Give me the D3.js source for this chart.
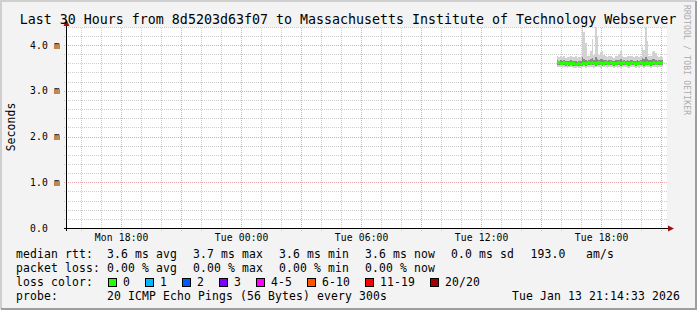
<!DOCTYPE html>
<html><head><meta charset="utf-8">
<script src="https://cdn.jsdelivr.net/npm/d3@7"></script>
<style>
html,body{margin:0;padding:0;background:#f3f3f3;}
svg{display:block;}
text{font-family:"DejaVu Sans Mono",monospace;fill:#000;white-space:pre;}
</style></head><body><svg id="c" width="697" height="310"></svg>
<script>
// ---------- data ----------
const title = "Last 30 Hours from 8d5203d63f07 to Massachusetts Institute of Technology Webserver";
const yAxisTitle = "Seconds";
const watermark = "RRDTOOL / TOBI OETIKER";
const endTime = "2026-01-13T21:14:33";
const rangeHours = 30;
const firstSample = "2026-01-13T15:45:00";
const stepSeconds = 300;
const yTickValues = [0, 1, 2, 3, 4];
const yTickLabels = ["0.0", "1.0 m", "2.0 m", "3.0 m", "4.0 m"];
const xTickLabels = ["Mon 18:00", "Tue 00:00", "Tue 06:00", "Tue 12:00", "Tue 18:00"];

// median RTT per 5 min step (ms)
const medianRtt = [3.62,3.62,3.61,3.61,3.62,3.60,3.61,3.60,3.61,3.60,
                   3.60,3.59,3.59,3.60,3.59,3.60,3.61,3.60,3.61,3.62,
                   3.61,3.62,3.61,3.60,3.61,3.62,3.61,3.60,3.61,3.62,
                   3.61,3.61,3.62,3.61,3.60,3.61,3.61,3.62,3.60,3.61,
                   3.62,3.61,3.61,3.60,3.61,3.62,3.61,3.60,3.61,3.61,
                   3.62,3.61,3.60,3.61,3.62,3.61,3.60,3.61,3.62,3.61,
                   3.61,3.62,3.61,3.62];
// highest ping per step (ms)
const maxRtt = [3.76,3.75,3.78,3.74,3.77,3.73,3.75,3.74,3.77,3.75,
                3.74,3.76,3.73,3.75,3.74,4.40,4.30,4.05,3.76,3.78,
                3.87,4.15,3.80,4.45,4.20,3.79,3.85,3.87,3.80,3.76,
                3.74,3.77,3.76,3.75,3.73,3.76,3.78,3.82,3.87,3.76,
                3.75,3.74,3.77,3.76,3.76,3.78,3.75,3.76,3.78,3.75,
                3.77,3.97,3.90,4.42,4.10,3.77,3.76,3.85,3.88,3.83,
                3.76,3.75,3.77,3.74];
// lowest ping per step (ms)
const minRtt = [3.53,3.52,3.53,3.51,3.53,3.52,3.51,3.52,3.53,3.52,
                3.51,3.50,3.52,3.51,3.50,3.52,3.53,3.51,3.52,3.53,
                3.52,3.53,3.51,3.52,3.53,3.52,3.51,3.52,3.53,3.52,
                3.51,3.52,3.53,3.52,3.50,3.52,3.51,3.53,3.51,3.52,
                3.53,3.52,3.51,3.50,3.52,3.53,3.52,3.51,3.52,3.51,
                3.53,3.52,3.51,3.52,3.53,3.52,3.50,3.52,3.53,3.52,
                3.51,3.53,3.52,3.53];
// upper and lower quartile of the pings (ms)
const upperQ = [3.68,3.67,3.69,3.67,3.68,3.66,3.67,3.66,3.68,3.67,
                3.66,3.67,3.65,3.66,3.66,3.74,3.71,3.69,3.67,3.69,
                3.70,3.72,3.69,3.75,3.71,3.69,3.71,3.70,3.69,3.68,
                3.67,3.68,3.69,3.67,3.66,3.68,3.68,3.69,3.70,3.67,
                3.68,3.67,3.68,3.67,3.69,3.68,3.67,3.66,3.68,3.67,
                3.68,3.72,3.70,3.74,3.71,3.68,3.69,3.70,3.71,3.69,
                3.67,3.68,3.68,3.69];
const lowerQ = [3.58,3.58,3.57,3.57,3.58,3.56,3.57,3.56,3.57,3.56,
                3.56,3.55,3.55,3.56,3.55,3.56,3.57,3.56,3.57,3.58,
                3.57,3.58,3.57,3.56,3.57,3.58,3.57,3.56,3.57,3.58,
                3.57,3.57,3.58,3.57,3.56,3.57,3.57,3.58,3.56,3.57,
                3.58,3.57,3.57,3.56,3.57,3.58,3.57,3.56,3.57,3.57,
                3.58,3.57,3.56,3.57,3.58,3.57,3.56,3.57,3.58,3.57,
                3.57,3.58,3.57,3.58];

const lossLabels = ["0", "1", "2", "3", "4-5", "6-10", "11-19", "20/20"];
const lossColors = ["#26ff00", "#00b8ff", "#0059ff", "#7e00ff", "#ff00ff", "#ff5500", "#ff0000", "#a00000"];
const rttStats = ["3.6 ms avg", "3.7 ms max", "3.6 ms min", "3.6 ms now", "0.0 ms sd"];
const rttRate = ["193.0", "am/s"];
const lossStats = ["0.00 % avg", "0.00 % max", "0.00 % min", "0.00 % now"];
const rowLabels = ["median rtt:", "packet loss:", "loss color:", "probe:"];
const probeText = "20 ICMP Echo Pings (56 Bytes) every 300s";
const stampText = "Tue Jan 13 21:14:33 2026";

// ---------- layout ----------
const W = 697, H = 310;
const L = 66.5, R = 666.5, B = 228.5, T = 27;
const svg = d3.select("#c");

const tEnd = new Date(endTime);
const tStart = new Date(tEnd.getTime() - rangeHours * 3600e3);
const x = d3.scaleTime().domain([tStart, tEnd]).range([L, R]);
const y = d3.scaleLinear().domain([0, 4]).range([B, B - 4 * 45.75]);
const yMax = y.invert(T);

const defs = svg.append("defs");
function pat(id, w, h, color) {
  const p = defs.append("pattern").attr("id", id).attr("patternUnits", "userSpaceOnUse")
    .attr("x", 0).attr("y", 0).attr("width", w).attr("height", h);
  p.append("rect").attr("x", 0).attr("y", 0).attr("width", 1).attr("height", 1).attr("fill", color);
}
pat("vMin", 1, 2, "#cdcdcd");
pat("vMaj", 1, 2, "#eaa6a6");

// background & frame
svg.append("rect").attr("width", W).attr("height", H).attr("fill", "#f3f3f3");
svg.append("path").attr("d", `M1,${H - 1}V1H${W - 1}`).attr("fill", "none").attr("stroke", "#cfcfcf").attr("stroke-width", 2);
svg.append("path").attr("d", `M1,${H - 1}H${W - 1}V1`).attr("fill", "none").attr("stroke", "#9e9e9e").attr("stroke-width", 2);

// canvas
svg.append("rect").attr("x", 67).attr("y", T).attr("width", 600).attr("height", B - T).attr("fill", "#ffffff");

// grid
const g = svg.append("g").attr("shape-rendering", "crispEdges");
const minorY = d3.range(0.2, yMax + 0.001, 0.2).filter(v => Math.abs(v - Math.round(v)) > 0.01);
const hourTicks = x.ticks(d3.timeHour.every(1));
const majT = x.ticks(d3.timeHour.every(3));
const majSet = majT.map(d => +d);
const dotXs = d3.range(64, 668, 2);
function hline(v, color) {
  const yy = Math.floor(y(v));
  g.append("g").selectAll("rect").data(dotXs).join("rect")
    .attr("x", d => d).attr("y", yy).attr("width", 1).attr("height", 1).attr("fill", color);
}
minorY.forEach(v => hline(v, "#cdcdcd"));
yTickValues.filter(v => v > 0).forEach(v => hline(v, "#eaa6a6"));
g.selectAll("rect.gx").data(hourTicks.filter(d => !majSet.includes(+d))).join("rect").attr("class", "gx")
  .attr("x", d => Math.floor(x(d))).attr("width", 1).attr("y", T).attr("height", 204).attr("fill", "url(#vMin)");
g.selectAll("rect.mx").data(majT).join("rect").attr("class", "mx")
  .attr("x", d => Math.floor(x(d))).attr("width", 1).attr("y", T).attr("height", 204).attr("fill", "url(#vMaj)");

// data
const t0 = new Date(firstSample).getTime();
const times = medianRtt.map((_, i) => new Date(t0 + i * stepSeconds * 1000));
const x1 = i => x(new Date(times[i].getTime() + stepSeconds * 1000));
svg.append("clipPath").attr("id", "cv").append("rect").attr("x", 67).attr("y", T).attr("width", 600).attr("height", B - T);
const dg = svg.append("g").attr("clip-path", "url(#cv)").attr("shape-rendering", "crispEdges");
dg.selectAll("rect.smk").data(times).join("rect").attr("class", "smk")
  .attr("x", d => x(d)).attr("width", (d, i) => x1(i) - x(d))
  .attr("y", (d, i) => y(maxRtt[i])).attr("height", (d, i) => y(minRtt[i]) - y(maxRtt[i]))
  .attr("fill", "#d2d2d2");
dg.selectAll("rect.smq").data(times).join("rect").attr("class", "smq")
  .attr("x", d => x(d)).attr("width", (d, i) => x1(i) - x(d))
  .attr("y", (d, i) => y(upperQ[i])).attr("height", (d, i) => y(lowerQ[i]) - y(upperQ[i]))
  .attr("fill", "#8a8a8a");
dg.selectAll("rect.med").data(times).join("rect").attr("class", "med")
  .attr("x", d => x(d)).attr("width", (d, i) => x1(i) - x(d))
  .attr("y", (d, i) => y(medianRtt[i]) - 1.5).attr("height", 3)
  .attr("fill", lossColors[0]);

// axes
svg.append("line").attr("x1", 64).attr("x2", 669).attr("y1", B).attr("y2", B).attr("stroke", "#000").attr("shape-rendering", "crispEdges");
svg.append("line").attr("x1", L).attr("x2", L).attr("y1", 231).attr("y2", 22).attr("stroke", "#000").attr("shape-rendering", "crispEdges");
svg.append("path").attr("d", `M${L},19.5L${L - 3},26L${L + 3},26Z`).attr("fill", "#9a1010");
svg.append("path").attr("d", `M674,${B}L668,${B - 3}L668,${B + 3}Z`).attr("fill", "#9a1010");

// tick labels
svg.selectAll("text.yl").data(yTickValues).join("text").attr("class", "yl")
  .attr("x", 30).attr("y", d => y(d) + 3).attr("font-size", "9.7px").attr("letter-spacing", "0.16px")
  .text((d, i) => yTickLabels[i]);
svg.selectAll("text.xl").data(x.ticks(d3.timeHour.every(6))).join("text").attr("class", "xl")
  .attr("x", d => x(d)).attr("y", 241).attr("text-anchor", "middle").attr("font-size", "9.7px").attr("letter-spacing", "0.16px")
  .text((d, i) => xTickLabels[i]);

// titles
svg.append("text").attr("x", 348).attr("y", 24).attr("text-anchor", "middle").attr("font-size", "13.3px").text(title);
svg.append("text").attr("transform", "translate(15,127) rotate(-90)").attr("text-anchor", "middle")
  .attr("font-size", "11.4px").attr("letter-spacing", "0.1px").text(yAxisTitle);
svg.append("text").attr("transform", "translate(684,5) rotate(90)").attr("font-size", "8px").attr("letter-spacing", "0.2px")
  .style("fill", "#ababab").text(watermark);

// legend
const lf = t => t.attr("font-size", "11.4px").attr("letter-spacing", "0.14px");
const base = [258, 272, 286, 300];
const colX = [107, 193, 279, 365, 451];
rowLabels.forEach((s, i) => lf(svg.append("text").attr("x", 16).attr("y", base[i]).text(s)));
rttStats.forEach((s, i) => lf(svg.append("text").attr("x", colX[i]).attr("y", base[0]).text(s)));
lf(svg.append("text").attr("x", 530.5).attr("y", base[0]).text(rttRate[0]));
lf(svg.append("text").attr("x", 586).attr("y", base[0]).text(rttRate[1]));
lossStats.forEach((s, i) => lf(svg.append("text").attr("x", colX[i]).attr("y", base[1]).text(s)));
let bx = 108;
lossLabels.forEach((s, i) => {
  svg.append("rect").attr("x", bx + 0.5).attr("y", 278.5).attr("width", 8).attr("height", 8)
    .attr("fill", lossColors[i]).attr("stroke", "#000").attr("shape-rendering", "crispEdges");
  const t = lf(svg.append("text").attr("x", bx + 15).attr("y", base[2]).text(s));
  bx = bx + 15 + t.node().getComputedTextLength() + 15;
});
lf(svg.append("text").attr("x", 107).attr("y", base[3]).text(probeText));
lf(svg.append("text").attr("x", 680).attr("y", base[3]).attr("text-anchor", "end").text(stampText));
</script></body></html>
